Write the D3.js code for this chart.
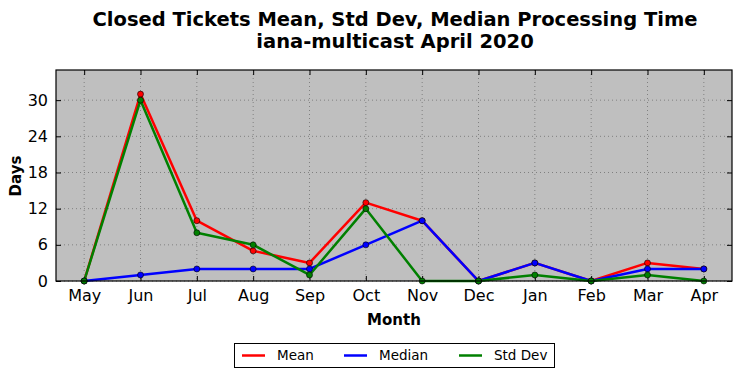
<!DOCTYPE html>
<html><head><meta charset="utf-8">
<script src="https://cdn.jsdelivr.net/npm/d3@7"></script>
<style>body{margin:0;background:#fff;}svg{display:block;font-family:"DejaVu Sans",sans-serif;}</style>
</head><body><svg id="c" width="742" height="378"></svg>
<script>
const months = ["May","Jun","Jul","Aug","Sep","Oct","Nov","Dec","Jan","Feb","Mar","Apr"];
const meanVals = [0,31,10,5,3,13,10,0,3,0,3,2];
const medianVals = [0,1,2,2,2,6,10,0,3,0,2,2];
const stdVals = [0,30,8,6,1,12,0,0,1,0,1,0];
const yTicks = [0,6,12,18,24,30];
const titleLines = ["Closed Tickets Mean, Std Dev, Median Processing Time","iana-multicast April 2020"];

const series = [
  {name:"Mean", color:"#ff0000", vals:meanVals},
  {name:"Median", color:"#0000ff", vals:medianVals},
  {name:"Std Dev", color:"#008000", vals:stdVals}
];

const svg = d3.select("#c");
const L=56,R=732,T=70,B=281;
const x = d3.scaleLinear().domain([-0.5, months.length-0.5]).range([L,R]);
const y = d3.scaleLinear().domain([0,35]).range([B,T]);

svg.append("rect").attr("x",L).attr("y",T).attr("width",R-L).attr("height",B-T).attr("fill","#bfbfbf");

// grid
const g = svg.append("g");
months.forEach((m,i)=>{
  g.append("line").attr("x1",x(i)).attr("x2",x(i)).attr("y1",T).attr("y2",B)
   .attr("stroke","#808080").attr("stroke-width",1).attr("stroke-dasharray","1,3");
});
yTicks.forEach(v=>{
  g.append("line").attr("x1",L).attr("x2",R).attr("y1",y(v)).attr("y2",y(v))
   .attr("stroke","#808080").attr("stroke-width",1).attr("stroke-dasharray","1,3");
});

// axes (ticks inward)
const xAx = svg.append("g").attr("transform",`translate(0,${B})`)
  .call(d3.axisBottom(x).tickValues(d3.range(months.length)).tickFormat(i=>months[i]).tickSizeInner(-5).tickSizeOuter(0).tickPadding(9));
const xAxTop = svg.append("g").attr("transform",`translate(0,${T})`)
  .call(d3.axisTop(x).tickValues(d3.range(months.length)).tickFormat("").tickSizeInner(-5).tickSizeOuter(0));
const yAx = svg.append("g").attr("transform",`translate(${L},0)`)
  .call(d3.axisLeft(y).tickValues(yTicks).tickSizeInner(-5).tickSizeOuter(0).tickPadding(8));
const yAxR = svg.append("g").attr("transform",`translate(${R},0)`)
  .call(d3.axisRight(y).tickValues(yTicks).tickFormat("").tickSizeInner(-5).tickSizeOuter(0));
[xAx,xAxTop,yAx,yAxR].forEach(a=>{
  a.select(".domain").remove();
  a.selectAll("line").attr("stroke","#000");
  a.selectAll("text").attr("font-size","16px").attr("fill","#000").attr("font-family","DejaVu Sans, sans-serif");
});

// lines
const line = d3.line().x((d,i)=>x(i)).y(d=>y(d));
series.forEach(s=>{
  svg.append("path").datum(s.vals).attr("d",line).attr("fill","none")
    .attr("stroke",s.color).attr("stroke-width",2.5).attr("stroke-linejoin","round");
});
series.forEach(s=>{
  svg.append("g").selectAll("circle").data(s.vals).join("circle")
    .attr("cx",(d,i)=>x(i)).attr("cy",d=>y(d)).attr("r",3)
    .attr("fill",s.color).attr("stroke","#000").attr("stroke-width",0.6);
});

// frame
svg.append("rect").attr("x",L).attr("y",T).attr("width",R-L).attr("height",B-T)
  .attr("fill","none").attr("stroke","#000").attr("stroke-width",1.2);

// title
titleLines.forEach((t,i)=>{
  svg.append("text").attr("x",395).attr("y",26+i*22).attr("text-anchor","middle")
    .attr("font-size","19.5px").attr("font-weight","bold").text(t);
});
// axis labels
svg.append("text").attr("x",394).attr("y",325).attr("text-anchor","middle")
  .attr("font-size","15px").attr("font-weight","bold").text("Month");
svg.append("text").attr("transform","translate(21,176) rotate(-90)").attr("text-anchor","middle")
  .attr("font-size","15px").attr("font-weight","bold").text("Days");

// legend
const lg = svg.append("g");
lg.append("rect").attr("x",234.5).attr("y",343.5).attr("width",320).attr("height",24)
  .attr("fill","#fff").attr("stroke","#000").attr("stroke-width",1);
const lx=[242,344,459];
series.forEach((s,i)=>{
  lg.append("line").attr("x1",lx[i]).attr("x2",lx[i]+23).attr("y1",355.5).attr("y2",355.5)
    .attr("stroke",s.color).attr("stroke-width",2.5);
  lg.append("text").attr("x",lx[i]+35).attr("y",360).attr("font-size","13.5px").text(s.name);
});
</script></body></html>
